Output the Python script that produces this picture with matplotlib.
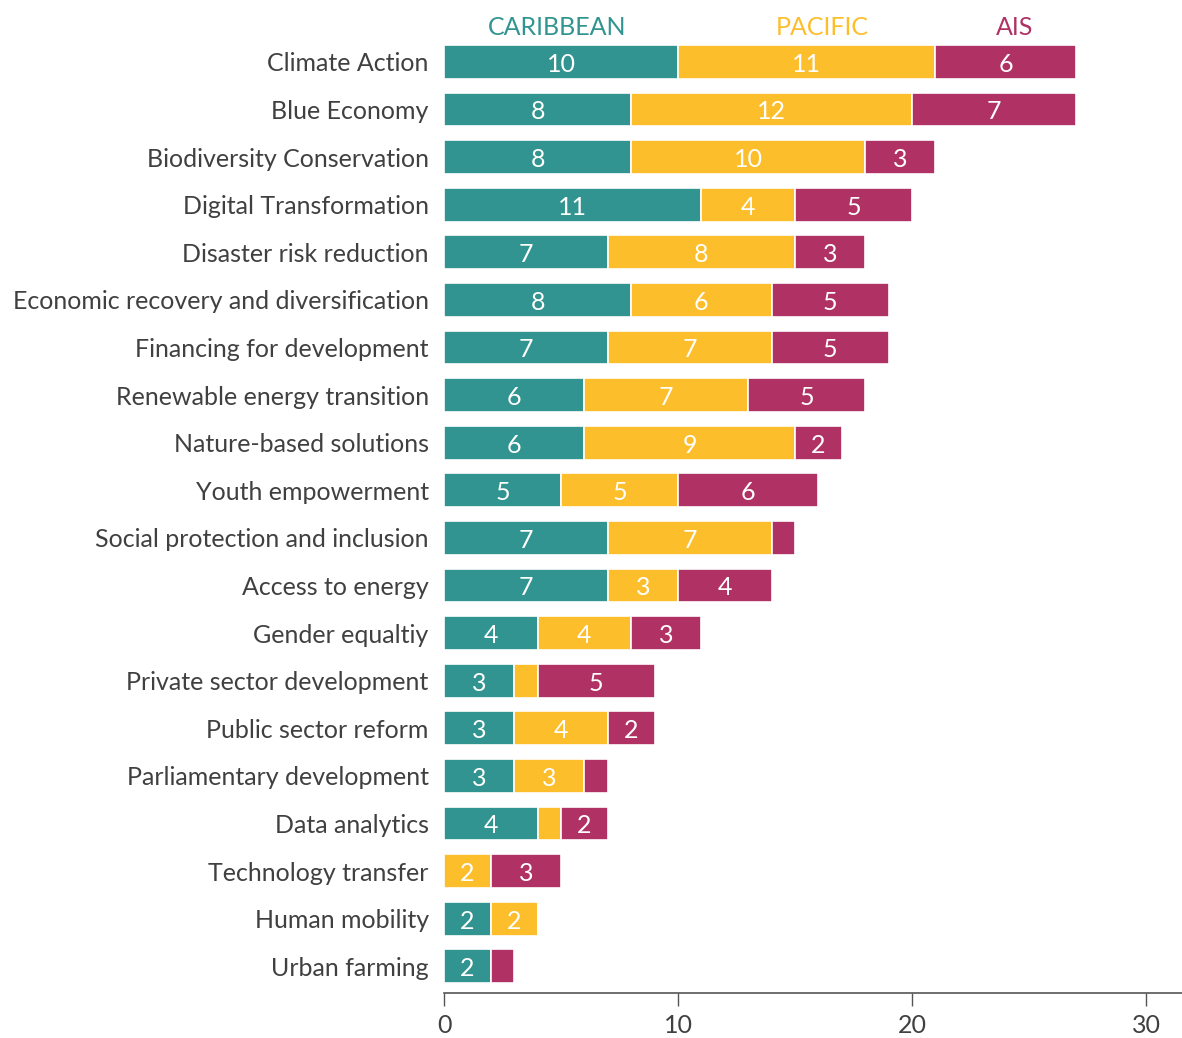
import matplotlib.pyplot as plt
import numpy as np

plt.rcParams["font.family"] = ["Lato", "DejaVu Sans"]

# ---- Data ----------------------------------------------------------------
categories = [
    "Climate Action", "Blue Economy", "Biodiversity Conservation",
    "Digital Transformation", "Disaster risk reduction",
    "Economic recovery and diversification", "Financing for development",
    "Renewable energy transition", "Nature-based solutions",
    "Youth empowerment", "Social protection and inclusion",
    "Access to energy", "Gender equaltiy", "Private sector development",
    "Public sector reform", "Parliamentary development", "Data analytics",
    "Technology transfer", "Human mobility", "Urban farming",
]
caribbean = [10, 8, 8, 11, 7, 8, 7, 6, 6, 5, 7, 7, 4, 3, 3, 3, 4, 0, 2, 2]
pacific = [11, 12, 10, 4, 8, 6, 7, 7, 9, 5, 7, 3, 4, 1, 4, 3, 1, 2, 2, 0]
ais = [6, 7, 3, 5, 3, 5, 5, 5, 2, 6, 1, 4, 3, 5, 2, 1, 2, 3, 0, 1]

series_names = ["CARIBBEAN", "PACIFIC", "AIS"]
x_ticks = [0, 10, 20, 30]

# ---- Style ---------------------------------------------------------------
TEAL = "#319490"
YELLOW = "#fdbe2c"
CRIMSON = "#b03264"
COLORS = [TEAL, YELLOW, CRIMSON]
TEXT = "#404040"
FS = 18

W, H = 1182, 1038
fig = plt.figure(figsize=(W / 100, H / 100), dpi=100)
ax = fig.add_axes([444 / W, 1 - 993 / H, (W - 444) / W, (993 - 14) / H])

y = np.arange(len(categories))
left = np.zeros(len(categories))
for vals, color in zip([caribbean, pacific, ais], COLORS):
    vals = np.array(vals, dtype=float)
    bars = ax.barh(y, vals, left=left, height=0.71, color=color,
                   edgecolor="white", linewidth=1.2)
    for rect, v in zip(bars, vals):
        if v >= 2:
            ax.text(rect.get_x() + rect.get_width() / 2,
                    rect.get_y() + rect.get_height() / 2 + 0.05,
                    f"{int(v)}", ha="center", va="center",
                    color="white", fontsize=FS)
    left += vals

# series headings above the top bar
for name, color, xpos in zip(series_names, COLORS, [4.83, 16.15, 24.4]):
    ax.text(xpos, -0.72, name, ha="center", va="center",
            color=color, fontsize=FS)

ax.set_xlim(0, (W - 444) / 23.4)
ax.set_ylim(19.56, -1.008)

ax.set_yticks(y)
ax.set_yticklabels(categories, fontsize=FS, color=TEXT)
ax.tick_params(axis="y", length=0, pad=11)

ax.set_xticks(x_ticks)
ax.set_xticklabels([str(t) for t in x_ticks], fontsize=FS, color=TEXT)
ax.tick_params(axis="x", length=9, width=1, color="#555555", pad=6)

for side in ["top", "right", "left"]:
    ax.spines[side].set_visible(False)
ax.spines["bottom"].set_color("#555555")
ax.spines["bottom"].set_linewidth(1.2)
ax.patch.set_alpha(0)

fig.savefig("out.png", dpi=100)
